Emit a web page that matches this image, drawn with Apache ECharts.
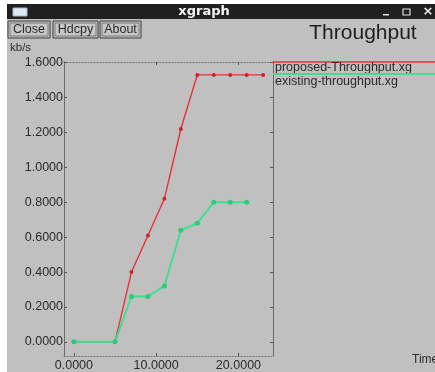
<!DOCTYPE html>
<html>
<head>
<meta charset="utf-8">
<style>html,body{margin:0;padding:0;background:#fff;}#c{width:435px;height:372px;}</style>
<script src="https://cdn.jsdelivr.net/npm/echarts@6.0.0/dist/echarts.min.js"></script>
</head>
<body>
<div id="c"></div>
<script>
const proposedX = [0, 5, 7, 9, 11, 13, 15, 17, 19, 21, 23];
const proposedY = [0, 0, 0.40, 0.61, 0.82, 1.22, 1.53, 1.53, 1.53, 1.53, 1.53];
const existingX = [0, 5, 7, 9, 11, 13, 15, 17, 19, 21];
const existingY = [0, 0, 0.26, 0.26, 0.32, 0.64, 0.68, 0.80, 0.80, 0.80];
const yTicks = [0, 0.2, 0.4, 0.6, 0.8, 1.0, 1.2, 1.4, 1.6];
const xTicks = [0, 10, 20];
const seriesNames = ['proposed-Throughput.xg', 'existing-throughput.xg'];
const colors = ['#e8303c', '#3ee08e'];

const FONT = '"Liberation Sans", Arial, sans-serif';
const TXT = '#2a2a2a';
const fmt = v => Number(v).toFixed(4);

const chart = echarts.init(document.getElementById('c'), null, {renderer: 'canvas'});

function button(x, w, label) {
  return [
    {type: 'rect', shape: {x: x, y: 21, width: w, height: 17}, style: {fill: '#c6c6c6', stroke: '#3a3a3a', lineWidth: 1}, z: 10},
    {type: 'rect', shape: {x: x + 2, y: 23, width: w - 4, height: 13}, style: {fill: 'none', stroke: '#7a7a7a', lineWidth: 1}, z: 10},
    {type: 'text', x: x + w / 2, y: 30, style: {text: label, fill: TXT, font: '12.5px ' + FONT, align: 'center', verticalAlign: 'middle'}, z: 11}
  ];
}

const graphics = [
  {type: 'rect', shape: {x: 7, y: 4, width: 428, height: 368}, style: {fill: '#c0c0c0'}, z: -10},
  {type: 'rect', shape: {x: 7, y: 4, width: 428, height: 15}, style: {fill: '#202020'}, z: 5},
  {type: 'rect', shape: {x: 13, y: 8, width: 14, height: 8}, style: {fill: '#dfe9f2', stroke: '#9fb8d0', lineWidth: 1}, z: 6},
  {type: 'text', x: 204, y: 12, style: {text: 'xgraph', fill: '#f4f4f4', font: 'bold 13px "DejaVu Sans", sans-serif', align: 'center', verticalAlign: 'middle'}, z: 6},
  {type: 'rect', shape: {x: 383, y: 14, width: 6, height: 1.5}, style: {fill: '#e0e0e0'}, z: 6},
  {type: 'rect', shape: {x: 403, y: 9, width: 7, height: 6}, style: {fill: 'none', stroke: '#e0e0e0', lineWidth: 1.2}, z: 6},
  {type: 'text', x: 428, y: 12, style: {text: '×', fill: '#e8e8e8', font: 'bold 13px "DejaVu Sans", sans-serif', align: 'center', verticalAlign: 'middle'}, z: 6},
  ...button(8, 42, 'Close'),
  ...button(53, 45, 'Hdcpy'),
  ...button(100, 41, 'About'),
  {type: 'text', x: 363, y: 33, style: {text: 'Throughput', fill: '#1e1e1e', font: '21px ' + FONT, align: 'center', verticalAlign: 'middle'}, z: 10},
  {type: 'text', x: 10, y: 48, style: {text: 'kb/s', fill: TXT, font: '11.5px ' + FONT, align: 'left', verticalAlign: 'middle'}, z: 10},
  {type: 'text', x: 412, y: 360, style: {text: 'Time', fill: TXT, font: '12px ' + FONT, align: 'left', verticalAlign: 'middle'}, z: 10},
  // legend
  {type: 'line', shape: {x1: 273, y1: 62, x2: 435, y2: 62}, style: {stroke: colors[0], lineWidth: 1.5}, z: 10},
  {type: 'text', x: 275, y: 67.5, style: {text: seriesNames[0], fill: TXT, font: '12.5px ' + FONT, align: 'left', verticalAlign: 'middle'}, z: 10},
  {type: 'line', shape: {x1: 273, y1: 74, x2: 435, y2: 74}, style: {stroke: colors[1], lineWidth: 2}, z: 10},
  {type: 'text', x: 275, y: 81.5, style: {text: seriesNames[1], fill: TXT, font: '12.5px ' + FONT, align: 'left', verticalAlign: 'middle'}, z: 10}
];

const yBase = {
  type: 'value', min: -0.081, max: 1.604,
  splitLine: {show: false}
};
const xBase = {
  type: 'value', min: -1.2, max: 24.2,
  splitLine: {show: false}
};

chart.setOption({
  animation: false,
  backgroundColor: '#ffffff',
  grid: {left: 64, right: 162, top: 62, bottom: 12, containLabel: false},
  graphic: graphics,
  xAxis: [
    Object.assign({}, xBase, {
      position: 'bottom',
      axisLine: {show: true, onZero: false, lineStyle: {color: '#6a6a6a', type: [1, 2], width: 1}},
      axisTick: {show: true, inside: true, length: 3, customValues: xTicks, lineStyle: {color: '#555'}},
      axisLabel: {show: true, customValues: xTicks, formatter: fmt, color: TXT, fontFamily: FONT, fontSize: 12.5, margin: 3}
    }),
    Object.assign({}, xBase, {
      position: 'top',
      axisLine: {show: true, onZero: false, lineStyle: {color: '#6a6a6a', type: [1, 2], width: 1}},
      axisTick: {show: true, inside: true, length: 3, customValues: [10, 20], lineStyle: {color: '#555'}},
      axisLabel: {show: false}
    })
  ],
  yAxis: [
    Object.assign({}, yBase, {
      position: 'left',
      axisLine: {show: true, onZero: false, lineStyle: {color: '#6a6a6a', width: 1}},
      axisTick: {show: true, inside: true, length: 3, customValues: yTicks, lineStyle: {color: '#555'}},
      axisLabel: {show: true, customValues: yTicks, formatter: fmt, color: TXT, fontFamily: FONT, fontSize: 12.5, margin: 1}
    }),
    Object.assign({}, yBase, {
      position: 'right',
      axisLine: {show: true, onZero: false, lineStyle: {color: '#6a6a6a', width: 1}},
      axisTick: {show: true, inside: true, length: 3, customValues: yTicks, lineStyle: {color: '#555'}},
      axisLabel: {show: false}
    })
  ],
  series: [
    {
      name: seriesNames[0], type: 'line', xAxisIndex: 0, yAxisIndex: 0,
      data: proposedX.map((x, i) => [x, proposedY[i]]),
      symbol: 'circle', symbolSize: 4, showSymbol: true,
      lineStyle: {color: colors[0], width: 1.4},
      itemStyle: {color: '#d0202c'}, z: 3
    },
    {
      name: seriesNames[1], type: 'line', xAxisIndex: 0, yAxisIndex: 0,
      data: existingX.map((x, i) => [x, existingY[i]]),
      symbol: 'circle', symbolSize: 5, showSymbol: true,
      lineStyle: {color: colors[1], width: 2},
      itemStyle: {color: '#30c87a'}, z: 4
    }
  ]
});
</script>
</body>
</html>
